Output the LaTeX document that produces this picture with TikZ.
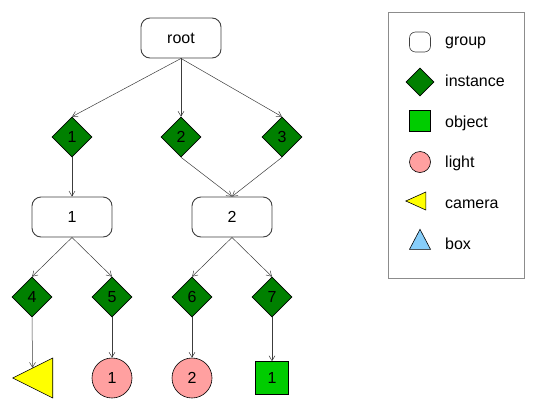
\documentclass[tikz,border=0pt]{standalone}
\usepackage{fontspec}
\setmainfont{Liberation Sans}
\usetikzlibrary{shapes.geometric,calc,arrows.meta}
\tikzstyle{scene} = [x = 1pt, y = -1pt, font=\fontsize{16}{19}\selectfont]
\definecolor{instanceColor}{RGB}{0,128,0}
\definecolor{objectColor}{RGB}{0,204,0}
\definecolor{lightColor}{RGB}{255,160,160}
\definecolor{cameraColor}{RGB}{255,255,0}
\definecolor{boxColor}{RGB}{135,206,250}
\definecolor{edgeColor}{RGB}{60,60,60}
\tikzstyle{groupStyle} = [rectangle, draw=black!75, fill=white, rounded corners = 9pt, line width=0.9pt, minimum width=80pt, minimum height=40pt, inner sep=0pt]
\tikzstyle{instanceStyle} = [diamond, draw=black, fill=instanceColor, line width=0.6pt, minimum width=40pt, minimum height=40pt, inner sep=0pt]
\tikzstyle{objectStyle} = [rectangle, draw=black, fill=objectColor, line width=0.6pt, minimum size=33pt, inner sep=0pt]
\tikzstyle{lightStyle} = [circle, draw=black, fill=lightColor, line width=0.6pt, minimum size=40pt, inner sep=0pt]
\tikzstyle{cameraStyle} = [isosceles triangle, isosceles triangle stretches, shape border rotate=180, draw=black, fill=cameraColor, line width=0.6pt, minimum width=40pt, minimum height=40pt, inner sep=0pt]
\tikzstyle{boxStyle} = [isosceles triangle, isosceles triangle stretches, shape border rotate=90, draw=black, fill=boxColor, line width=0.6pt, inner sep=0pt]
\tikzstyle{edge} = [draw=edgeColor, line width=0.5pt, -{Straight Barb[length=5pt, width=6pt]}]
\tikzstyle{legendText} = [anchor=base west, inner sep=0pt]
\newcommand{\legendEntry}[5]{
  \node [#2] (#1Key) at (420, #3) {};
  \node [legendText] (#1Label) at (445, #4) {#5};
}

\begin{document}
\begin{tikzpicture}[scene]
  \useasboundingbox (0, 0) rectangle (535, 410);
  % scene graph
  \node [groupStyle] (root) at (181, 38) {root};
  \node [instanceStyle] (i1) at (72, 137) {1};
  \node [instanceStyle] (i2) at (181, 137) {2};
  \node [instanceStyle] (i3) at (282, 137) {3};
  \node [groupStyle] (g1) at (72, 217) {1};
  \node [groupStyle] (g2) at (232, 217) {2};
  \node [instanceStyle] (i4) at (32, 297) {4};
  \node [instanceStyle] (i5) at (112, 297) {5};
  \node [instanceStyle] (i6) at (192, 297) {6};
  \node [instanceStyle] (i7) at (272, 297) {7};
  \node [cameraStyle, anchor=apex] (cam1) at (12, 378) {};
  \node [lightStyle] (light1) at (112, 378) {1};
  \node [lightStyle] (light2) at (192, 378) {2};
  \node [objectStyle] (obj1) at (272, 378) {1};
  \coordinate (cam1Top) at ($(cam1.apex)!0.5!(cam1.right corner)$);
  \draw [edge] (root.south) -- (i1.north);
  \draw [edge] (root.south) -- (i2.north);
  \draw [edge] (root.south) -- (i3.north);
  \draw [edge] (i1.south) -- (g1.north);
  \draw [edge] (i2.south) -- (g2.north);
  \draw [edge] (i3.south) -- (g2.north);
  \draw [edge] (g1.south) -- (i4.north);
  \draw [edge] (g1.south) -- (i5.north);
  \draw [edge] (g2.south) -- (i6.north);
  \draw [edge] (g2.south) -- (i7.north);
  \draw [edge] (i4.south) -- (cam1Top);
  \draw [edge] (i5.south) -- (light1.north);
  \draw [edge] (i6.south) -- (light2.north);
  \draw [edge] (i7.south) -- (obj1.north);
  % legend
  \draw [draw=black!45, line width=0.8pt] (388, 12) rectangle (524, 278);
  \legendEntry{group}{groupStyle, minimum width=21pt, minimum height=20pt, rounded corners=6pt, line width=0.6pt}{42}{45}{group}
  \legendEntry{instance}{instanceStyle, minimum width=28pt, minimum height=28pt}{82}{86}{instance}
  \legendEntry{object}{objectStyle, minimum size=21pt}{121}{127}{object}
  \legendEntry{light}{lightStyle, minimum size=21pt}{162}{167}{light}
  \legendEntry{camera}{cameraStyle, minimum width=18pt, minimum height=20pt}{201}{208}{camera}
  \legendEntry{box}{boxStyle, minimum width=21pt, minimum height=20pt}{243}{249}{box}
\end{tikzpicture}
\end{document}
